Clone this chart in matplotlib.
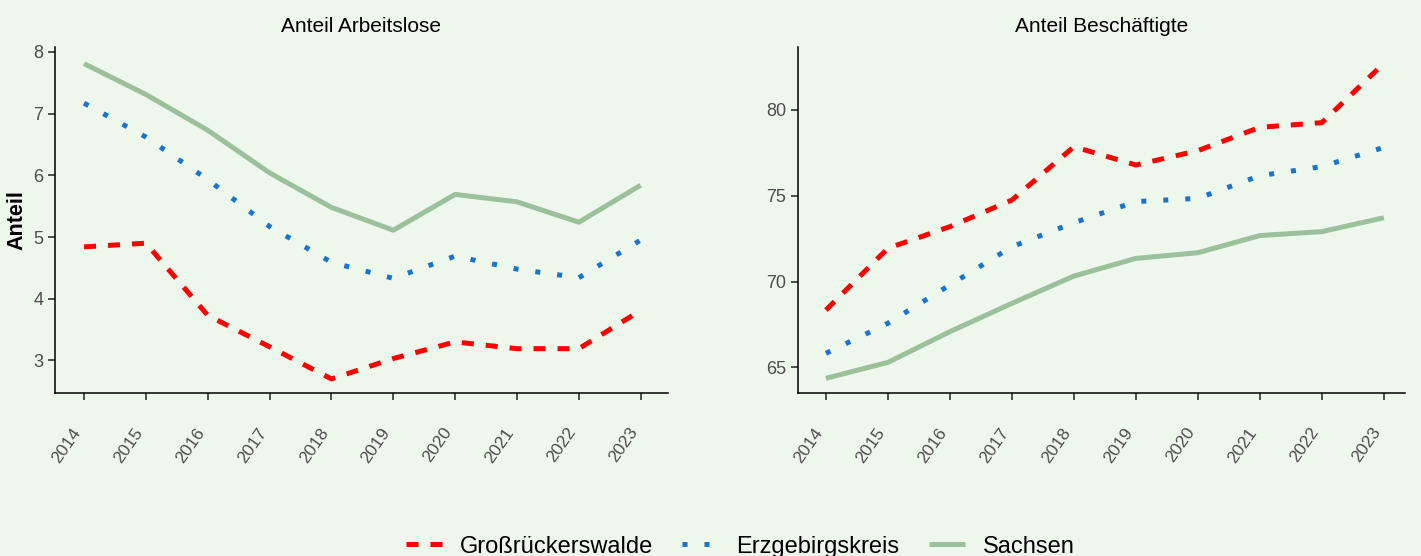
import matplotlib.pyplot as plt
from matplotlib.transforms import ScaledTranslation

# data
years = [2014, 2015, 2016, 2017, 2018, 2019, 2020, 2021, 2022, 2023]

alo_gross = [4.84, 4.90, 3.73, 3.22, 2.70, 3.03, 3.30, 3.19, 3.19, 3.81]
alo_erz = [7.17, 6.62, 5.93, 5.17, 4.59, 4.33, 4.69, 4.48, 4.34, 4.95]
alo_sachsen = [7.81, 7.31, 6.73, 6.04, 5.48, 5.11, 5.69, 5.57, 5.24, 5.84]

bes_gross = [68.34, 71.94, 73.2, 74.75, 77.86, 76.79, 77.63, 78.99, 79.26, 82.72]
bes_erz = [65.82, 67.57, 69.8, 72.03, 73.43, 74.66, 74.85, 76.17, 76.7, 77.82]
bes_sachsen = [64.36, 65.29, 67.08, 68.73, 70.32, 71.35, 71.68, 72.68, 72.91, 73.72]

names = ["Großrückerswalde", "Erzgebirgskreis", "Sachsen"]
titles = ["Anteil Arbeitslose", "Anteil Beschäftigte"]

bg = "#eef7ec"
col_red = "#ff0000"
col_blue = "#1874cd"
col_green = "#9cbf9c"
txt_gray = "#4d4d4d"

plt.rcParams['font.family'] = ['Liberation Sans', 'DejaVu Sans']

fig = plt.figure(figsize=(14.21, 5.56), dpi=100, facecolor=bg)
ax1 = fig.add_axes([0.0387, 0.293, 0.4313, 0.6225])
ax2 = fig.add_axes([0.5616, 0.293, 0.4271, 0.6225])

panels = [
    (ax1, alo_gross, alo_erz, alo_sachsen, (2.47, 8.08), [3, 4, 5, 6, 7, 8], (2013.53, 2023.44)),
    (ax2, bes_gross, bes_erz, bes_sachsen, (63.5, 83.67), [65, 70, 75, 80], (2013.55, 2023.34)),
]

lw = 3.6
shift = ScaledTranslation(0.045, 0, fig.dpi_scale_trans)
handles = []
for i, (ax, g, e, s, ylim, yt, xlim) in enumerate(panels):
    ax.set_facecolor(bg)
    l3, = ax.plot(years, s, color=col_green, lw=lw, solid_capstyle="butt")
    l2, = ax.plot(years, e, color=col_blue, lw=lw, dashes=(1, 3.4), dash_capstyle="butt")
    l1, = ax.plot(years, g, color=col_red, lw=lw, dashes=(2.4, 2.4), dash_capstyle="butt")
    if i == 0:
        handles = [l1, l2, l3]
    ax.set_xlim(*xlim)
    ax.set_ylim(*ylim)
    ax.set_xticks(years)
    ax.set_xticklabels([str(y) for y in years], rotation=55, ha="right",
                       color=txt_gray, fontsize=12.5)
    for lab in ax.get_xticklabels():
        lab.set_transform(lab.get_transform() + shift)
    ax.set_yticks(yt)
    ax.set_yticklabels([str(v) for v in yt], color=txt_gray, fontsize=13)
    ax.tick_params(axis="both", direction="out", length=5, width=1.2, color="#333333")
    ax.tick_params(axis="y", pad=3.5)
    ax.tick_params(axis="x", pad=18)
    for side in ["top", "right"]:
        ax.spines[side].set_visible(False)
    for side in ["left", "bottom"]:
        ax.spines[side].set_linewidth(1.1)
        ax.spines[side].set_color("black")
    ax.set_title(titles[i], fontsize=15, pad=11)

ax1.set_ylabel("Anteil", fontsize=15.5, fontweight="bold", labelpad=4)

fig.legend(handles, names, loc="center", ncol=3, frameon=False,
           fontsize=17, bbox_to_anchor=(0.521, 0.017), handlelength=1.53,
           columnspacing=1.23, handletextpad=0.76)

fig.savefig("out.png", dpi=100, facecolor=bg)
